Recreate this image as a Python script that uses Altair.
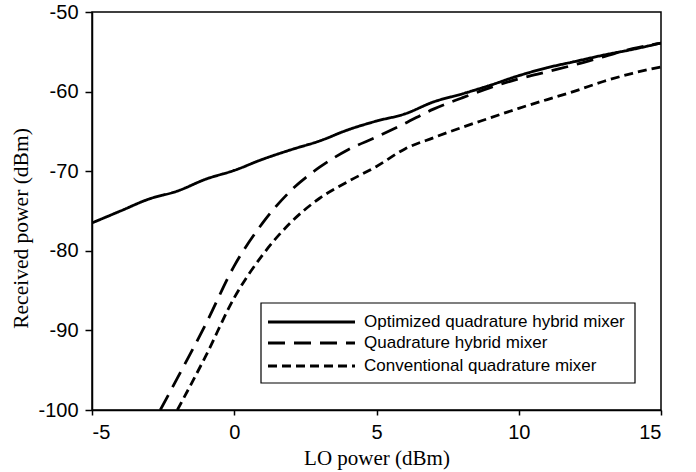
import altair as alt
import pandas as pd

# ---- data ----
opt_x = [-5, -4, -3, -2, -1, 0, 1, 2, 3, 4, 5, 6, 7, 8, 9, 10, 11, 12, 13, 14, 15]
opt_y = [-76.5, -75.0, -73.5, -72.5, -71.0, -69.9, -68.5, -67.3, -66.2, -64.8, -63.7,
         -62.8, -61.3, -60.3, -59.2, -58.0, -57.0, -56.2, -55.4, -54.7, -53.9]

qh_x = [-2.6, -2, -1, 0, 1, 2, 3, 4, 5, 6, 7, 8, 9, 10, 11, 12, 13, 14, 15]
qh_y = [-100.0, -96.0, -89.2, -81.9, -76.5, -72.4, -69.5, -67.3, -65.7, -64.0, -62.2,
        -60.8, -59.5, -58.4, -57.5, -56.6, -55.6, -54.6, -53.9]

cq_x = [-2.0, -1, 0, 1, 2, 3, 4, 5, 6, 7, 8, 9, 10, 11, 12, 13, 14, 15]
cq_y = [-100.0, -93.2, -85.9, -80.5, -76.4, -73.4, -71.3, -69.4, -67.2, -65.8, -64.5,
        -63.3, -62.1, -61.0, -59.9, -58.7, -57.7, -56.9]

series_names = ["Optimized quadrature hybrid mixer",
                "Quadrature hybrid mixer",
                "Conventional quadrature mixer"]
dashes = [[1, 0], [17, 9], [9, 5]]

x_ticks = [-5, 0, 5, 10, 15]
y_ticks = [-100, -90, -80, -70, -60, -50]

rows = []
for name, xs, ys in zip(series_names, [opt_x, qh_x, cq_x], [opt_y, qh_y, cq_y]):
    for i, (a, b) in enumerate(zip(xs, ys)):
        rows.append({"series": name, "x": a, "y": b, "order": i})
df = pd.DataFrame(rows)

W, H = 569, 398
SANS = "Liberation Sans"
SERIF = "Liberation Serif"

lines = alt.Chart(df).mark_line(strokeWidth=2.8, color="black", interpolate="monotone", clip=True).encode(
    x=alt.X("x:Q", scale=alt.Scale(domain=[-5, 15], nice=False, zero=False),
            axis=alt.Axis(values=x_ticks, title="LO power (dBm)", grid=False,
                          labelExpr="toString(datum.value)",
                          labelFont=SANS, labelFontSize=20, labelColor="black",
                          labelBaseline="alphabetic", labelPadding=23, tickSize=5,
                          titleFont=SERIF, titleFontSize=21, titleFontWeight="normal",
                          titleColor="black", titleY=54, titleBaseline="alphabetic")),
    y=alt.Y("y:Q", scale=alt.Scale(domain=[-100, -50], nice=False, zero=False),
            axis=alt.Axis(values=y_ticks, title="Received power (dBm)", grid=False,
                          labelExpr="toString(datum.value)",
                          labelFont=SANS, labelFontSize=20, labelColor="black",
                          labelPadding=7, tickSize=7,
                          titleFont=SERIF, titleFontSize=21.5, titleFontWeight="normal",
                          titleColor="black", titleX=-71, titleY=216, titleAngle=-90,
                          titleAlign="center", titleBaseline="middle")),
    strokeDash=alt.StrokeDash("series:N", scale=alt.Scale(domain=series_names, range=dashes), legend=None),
    detail="series:N",
    order="order:Q",
)

# ---- hand-built legend box ----
LX0, LX1, LY0, LY1 = 169, 543, 291, 371
legend_layers = [
    alt.Chart().mark_rect(fill="white", stroke="black", strokeWidth=1.2).encode(
        x=alt.value(LX0), x2=alt.value(LX1), y=alt.value(LY0), y2=alt.value(LY1))
]
row_y = [310, 331, 354]
for name, dash, ry in zip(series_names, dashes, row_y):
    legend_layers.append(
        alt.Chart().mark_rule(color="black", strokeWidth=2.8, strokeDash=dash).encode(
            x=alt.value(176), x2=alt.value(263), y=alt.value(ry)))
    legend_layers.append(
        alt.Chart().mark_text(text=name, font=SANS, fontSize=17, color="black",
                              align="left", baseline="middle").encode(
            x=alt.value(272), y=alt.value(ry)))

chart = alt.layer(lines, *legend_layers).properties(
    width=W, height=H,
    autosize=alt.AutoSizeParams(type="none"),
    padding={"left": 92, "top": 12, "right": 35, "bottom": 62},
    background="white",
).configure_view(
    stroke="black", strokeWidth=1.5
).configure_axis(
    domainColor="black", domainWidth=1.5, tickColor="black", tickWidth=1.5
)

chart.save("out.html", embed_options={"renderer": "svg", "actions": False})
